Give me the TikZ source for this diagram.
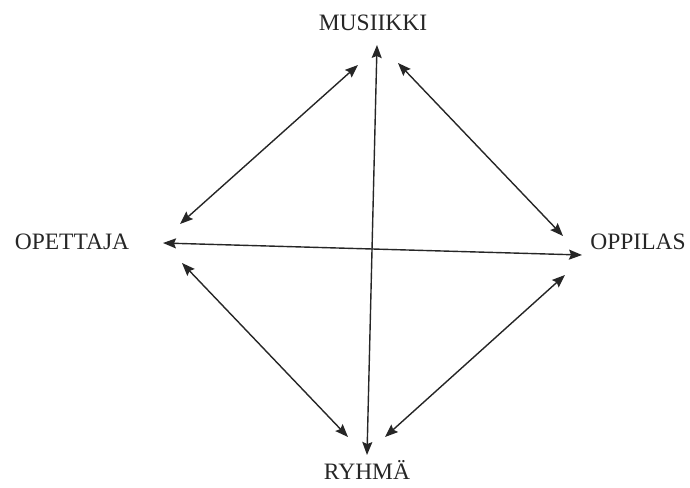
\documentclass[tikz,border=0pt]{standalone}
\usepackage{fontspec}
\setmainfont{Liberation Serif}
\usetikzlibrary{arrows.meta}
\begin{document}
\begin{tikzpicture}[x=1pt,y=-1pt,
  lbl/.style={inner sep=0pt,font=\fontsize{23.5}{28}\selectfont,text=black!85},
  rel/.style={{Stealth[length=13pt,width=10pt,inset=2pt]}-{Stealth[length=13pt,width=10pt,inset=2pt]},line width=1.4pt,black!85}]
\useasboundingbox (0,0) rectangle (690,487);
\node[lbl] (mus) at (373,23) {MUSIIKKI};
\node[lbl] (ope) at (72,242) {OPETTAJA};
\node[lbl] (opp) at (638,242) {OPPILAS};
\node[lbl] (ryh) at (367,470) {RYHMÄ};
% arrow end points
\coordinate (musL) at (358,65);
\coordinate (musR) at (398,63);
\coordinate (musB) at (377,45);
\coordinate (opeU) at (180,224);
\coordinate (opeD) at (182,263);
\coordinate (opeR) at (163,243);
\coordinate (oppU) at (563,236);
\coordinate (oppD) at (565,275);
\coordinate (oppL) at (582,255);
\coordinate (ryhL) at (348,437);
\coordinate (ryhR) at (385,437);
\coordinate (ryhT) at (367,455);
\draw[rel] (musL) -- (opeU);
\draw[rel] (musR) -- (oppU);
\draw[rel] (opeD) -- (ryhL);
\draw[rel] (oppD) -- (ryhR);
\draw[rel] (musB) -- (ryhT);
\draw[rel] (opeR) -- (oppL);
\end{tikzpicture}
\end{document}
